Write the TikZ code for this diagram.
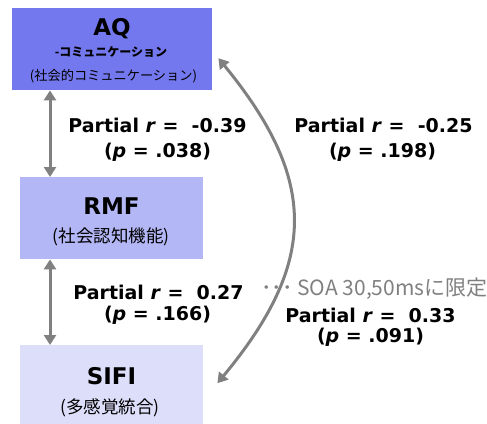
\documentclass[tikz,border=0pt]{standalone}
\usepackage{fontspec}
\setmainfont{DejaVu Sans}
\newfontfamily\jpfont{Noto Sans CJK JP}
\usetikzlibrary{arrows.meta}
\definecolor{aqblue}{RGB}{116,120,238}
\definecolor{rmfblue}{RGB}{180,183,246}
\definecolor{sifiblue}{RGB}{221,222,250}
\definecolor{linkgray}{RGB}{128,128,128}
\tikzset{
  box/.style={rectangle, draw=none, inner sep=0pt, anchor=north west},
  title/.style={font=\fontsize{23}{23}\selectfont\bfseries},
  sub/.style={font=\jpfont\fontsize{17.5}{17.5}\selectfont},
  stat/.style={font=\fontsize{19}{19}\selectfont\bfseries, inner sep=0pt},
  note/.style={font=\jpfont\fontsize{21}{21}\selectfont, text=linkgray, inner sep=0pt},
  link/.style={draw=linkgray, line width=3pt,
    {Triangle[width=12pt,length=10pt]}-{Triangle[width=12pt,length=10pt]}}
}
\newcommand{\rr}{\textit{r}}
\newcommand{\pp}{\textit{p}}
\begin{document}
\begin{tikzpicture}[x=1pt,y=-1pt]
\useasboundingbox (0,0) rectangle (487,423);
% the three measures
\node[box, fill=aqblue, minimum width=200pt, minimum height=82pt] (AQ) at (12,8) {};
\node[box, fill=rmfblue, minimum width=183pt, minimum height=82pt] (RMF) at (20,177) {};
\node[box, fill=sifiblue, minimum width=183pt, minimum height=80pt] (SIFI) at (20,345) {};
\node[title] (aqt) at (112,28.5) {AQ};
\node[font=\jpfont\fontsize{12}{12}\selectfont\bfseries] (aqs) at (111,52) {-コミュニケーション};
\node[font=\jpfont\fontsize{13.2}{13.2}\selectfont] (aqj) at (113.5,76) {(社会的コミュニケーション)};
\node[title] (rmft) at (111.5,206.5) {RMF};
\node[sub] (rmfj) at (111,237) {(社会認知機能)};
\node[title] (sifit) at (111.5,376.5) {SIFI};
\node[sub] (sifij) at (110,408) {(多感覚統合)};
% partial correlations
\draw[link] ([xshift=38pt]AQ.south west) -- ([xshift=30pt]RMF.north west);
\draw[link] ([xshift=30pt]RMF.south west) -- ([xshift=30pt]SIFI.north west);
\coordinate (top) at ([xshift=6pt,yshift=-9pt]AQ.east);
\coordinate (bot) at ([xshift=14pt,yshift=2pt]SIFI.east);
\draw[link] (top) .. controls (318,180) and (318,262) .. (bot);
% statistics
\node[stat] (s1) at (157.5,125) {Partial \rr{} =\ \ -0.39};
\node[stat] (s1p) at (157.5,152) {(\pp{} = .038)};
\node[stat] (s2) at (383.5,125) {Partial \rr{} =\ \ -0.25};
\node[stat] (s2p) at (382.5,152) {(\pp{} = .198)};
\node[stat] (s3) at (158.5,292) {Partial \rr{} =\ \ 0.27};
\node[stat] (s3p) at (157.5,315) {(\pp{} = .166)};
\node[note, anchor=west] (soa) at (261,289) {･･･ SOA 30,50msに限定};
\node[stat] (s4) at (370.5,315) {Partial \rr{} =\ \ 0.33};
\node[stat] (s4p) at (370.5,337) {(\pp{} = .091)};
\end{tikzpicture}
\end{document}
